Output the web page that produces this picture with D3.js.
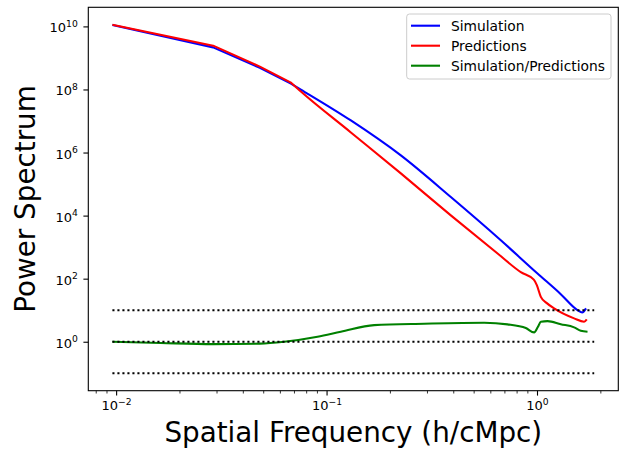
<!DOCTYPE html>
<html>
<head>
<meta charset="utf-8">
<script src="https://cdn.jsdelivr.net/npm/d3@7"></script>
<style>
  html, body { margin: 0; padding: 0; background: #fff; }
  svg { display: block; font-family: "DejaVu Sans", sans-serif; }
</style>
</head>
<body>
<svg id="chart" width="633" height="450"></svg>
<script>
// ---- data ----
const simK  = [0.0096, 0.0289, 0.0482, 0.0677, 0.0755, 0.1305, 0.2254, 0.3895, 0.673, 1.0055, 1.297, 1.557, 1.64, 1.71];
const simP  = [1.1e10, 2.16e9, 4.83e8, 1.54e8, 9.93e7, 1.04e7, 8.1e5, 3.88e4, 1.65e3, 146, 32.3, 10.1, 8.5, 11.4];

const predK = [0.0096, 0.0289, 0.0482, 0.0677, 0.0755, 0.1305, 0.2254, 0.3895, 0.6497, 0.8375, 0.9656, 0.998, 1.0426, 1.1134, 1.206, 1.501, 1.674, 1.724];
const predP = [1.13e10, 2.45e9, 5.3e8, 1.65e8, 8.6e7, 4.33e6, 2.18e5, 1.02e4, 627, 161, 92.9, 62.2, 26.5, 16.8, 11.4, 5.5, 4.3, 5.1];

const ratioK = [0.0096, 0.0163, 0.0289, 0.0482, 0.0629, 0.0906, 0.1169, 0.1683, 0.2909, 0.5609, 0.7244, 0.885, 0.969, 1.009, 1.043, 1.122, 1.297, 1.501, 1.614, 1.738];
const ratioP = [1.0, 0.91, 0.84, 0.87, 1.0, 1.44, 2.07, 3.37, 3.72, 3.99, 3.56, 2.72, 1.98, 2.92, 4.30, 4.52, 3.6, 2.86, 2.23, 2.07];

const refLevels = [10, 1, 0.1];
const refK = [0.0096, 1.87];

const seriesNames = ["Simulation", "Predictions", "Simulation/Predictions"];
const seriesColors = ["#0000ff", "#ff0000", "#008000"];

const xMajor = [0.01, 0.1, 1];
const xMajorExp = ["\u22122", "\u22121", "0"];
const yMajor = [1, 1e2, 1e4, 1e6, 1e8, 1e10];
const yMajorExp = ["0", "2", "4", "6", "8", "10"];

const xLabel = "Spatial Frequency (h/cMpc)";
const yLabel = "Power Spectrum";

// ---- layout ----
const W = 633, H = 450;
const L = 88.3, R = 618.3, T = 7.3, B = 390.7;

const svg = d3.select("#chart");

function logPad(lo, hi) {
  const a = Math.log10(lo), b = Math.log10(hi), m = (b - a) * 0.05;
  return [Math.pow(10, a - m), Math.pow(10, b + m)];
}
const allP = simP.concat(predP, ratioP, refLevels);
const x = d3.scaleLog().domain(logPad(d3.min(refK), d3.max(refK))).range([L, R]);
const y = d3.scaleLog().domain(logPad(d3.min(allP), d3.max(allP))).range([B, T]);

const g = svg.append("g");

const linLine = d3.line().x(d => x(d[0])).y(d => y(d[1]));
const smoothLine = d3.line().x(d => x(d[0])).y(d => y(d[1])).curve(d3.curveMonotoneX);

// kSplit: straight segments up to kSplit (coarse low-k bins), smooth after
function draw(ks, ps, color, dash, kSplit) {
  const pts = ks.map((k, i) => [k, ps[i]]);
  let d;
  if (kSplit === undefined) {
    d = linLine(pts);
  } else {
    const a = pts.filter(p => p[0] <= kSplit);
    const b = pts.filter(p => p[0] >= kSplit);
    d = (a.length > 1 ? linLine(a) + smoothLine(b).replace(/^M/, "L") : smoothLine(b));
  }
  const p = g.append("path")
    .attr("d", d)
    .attr("fill", "none")
    .attr("stroke", color)
    .attr("stroke-width", 2.1)
    .attr("stroke-linejoin", "round")
    .attr("stroke-linecap", "butt");
  if (dash) p.attr("stroke-dasharray", dash);
}

draw(simK, simP, seriesColors[0], null, 0.0677);
draw(predK, predP, seriesColors[1], null, 0.0677);
draw(ratioK, ratioP, seriesColors[2], null, 0);
refLevels.forEach(v => draw(refK, [v, v], "#000000", "2.1,2.9"));

// ---- axes ----
const axG = svg.append("g");
const xMinor = [];
for (let e = -3; e <= 1; e++) for (let m = 2; m <= 9; m++) {
  const v = m * Math.pow(10, e);
  if (v >= x.domain()[0] && v <= x.domain()[1]) xMinor.push(v);
}
axG.append("g").attr("transform", `translate(0,${B})`)
  .call(d3.axisBottom(x).tickValues(xMinor).tickFormat("").tickSize(2.8).tickSizeOuter(0))
  .call(s => s.select(".domain").remove())
  .call(s => s.selectAll("line").attr("stroke-width", 0.8));

const xAx = axG.append("g").attr("transform", `translate(0,${B})`)
  .call(d3.axisBottom(x).tickValues(xMajor).tickFormat("").tickSize(4.9).tickSizeOuter(0));
xAx.select(".domain").remove();
xAx.selectAll("line").attr("stroke-width", 1.1);
xAx.selectAll(".tick").each(function(d, i) {
  const t = d3.select(this).append("text")
    .attr("y", 19.8).attr("fill", "#000").attr("text-anchor", "middle")
    .attr("font-size", 13).style("font-family", "DejaVu Sans");
  t.append("tspan").text("10");
  t.append("tspan").attr("font-size", 9.2).attr("dy", -5.6).text(xMajorExp[i]);
});

const yAx = axG.append("g").attr("transform", `translate(${L},0)`)
  .call(d3.axisLeft(y).tickValues(yMajor).tickFormat("").tickSize(4.9).tickSizeOuter(0));
yAx.select(".domain").remove();
yAx.selectAll("line").attr("stroke-width", 1.1);
yAx.selectAll(".tick").each(function(d, i) {
  const t = d3.select(this).append("text")
    .attr("x", -10.5).attr("y", 5.5).attr("fill", "#000").attr("text-anchor", "end")
    .attr("font-size", 13).style("font-family", "DejaVu Sans");
  t.append("tspan").text("10");
  t.append("tspan").attr("font-size", 9.2).attr("dy", -5.6).text(yMajorExp[i]);
});

svg.append("rect").attr("x", L).attr("y", T).attr("width", R - L).attr("height", B - T)
  .attr("fill", "none").attr("stroke", "#000").attr("stroke-width", 1.1);

svg.append("text").attr("x", (L + R) / 2).attr("y", 442).attr("text-anchor", "middle")
  .attr("font-size", 27.8).attr("fill", "#000").text(xLabel);
svg.append("text").attr("transform", `translate(35,${(T + B) / 2}) rotate(-90)`)
  .attr("text-anchor", "middle").attr("font-size", 27.8).attr("fill", "#000").text(yLabel);

const lg = svg.append("g");
lg.append("rect").attr("x", 406.7).attr("y", 14).attr("width", 204.3).attr("height", 65)
  .attr("rx", 2.8).attr("fill", "#fff").attr("fill-opacity", 0.8)
  .attr("stroke", "#cccccc").attr("stroke-width", 1);
seriesNames.forEach((name, i) => {
  const yy = 25.7 + i * 20;
  lg.append("line").attr("x1", 411).attr("x2", 440).attr("y1", yy).attr("y2", yy)
    .attr("stroke", seriesColors[i]).attr("stroke-width", 2.1);
  lg.append("text").attr("x", 451).attr("y", yy + 5).attr("font-size", 13.8)
    .attr("fill", "#000").text(name);
});
</script>
</body>
</html>
